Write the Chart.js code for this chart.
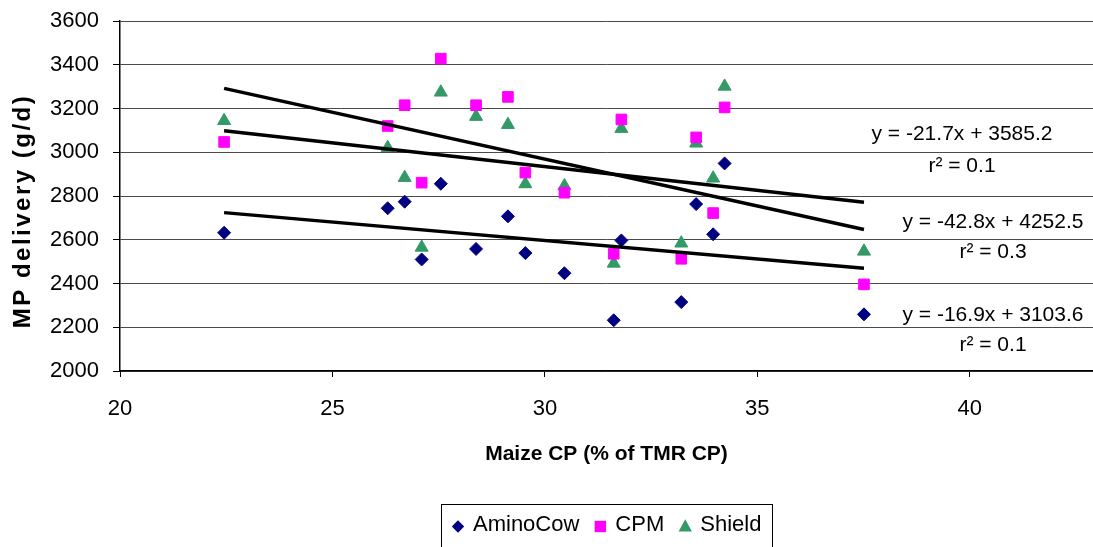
<!DOCTYPE html>
<html>
<head>
<meta charset="utf-8">
<script src="https://cdn.jsdelivr.net/npm/chart.js@4.4.1/dist/chart.umd.min.js"></script>
<style>
    html, body { margin: 0; padding: 0; background: #fff; }
    canvas { display: block; }
</style>
</head>
<body>
<canvas id="mpChart" width="1093" height="547"></canvas>
<script>
// Maize CP (% of TMR CP) - same diets for all three models
const maizeCP = [22.45, 26.3, 26.7, 27.1, 27.55, 28.38, 29.13, 29.54, 30.46, 31.62, 31.8, 33.21, 33.56, 33.96, 34.23, 37.51];

// MP delivery (g/d) per model
const aminoCow = [2632, 2744, 2774, 2510, 2856, 2558, 2707, 2539, 2447, 2232, 2597, 2315, 2763, 2625, 2949, 2259];
const cpm      = [3047, 3120, 3215, 2861, 3428, 3215, 3253, 2907, 2815, 2536, 3150, 2513, 3068, 2722, 3205, 2396];
const shield   = [3144, 3021, 2884, 2565, 3274, 3163, 3126, 2855, 2846, 2492, 3108, 2584, 3041, 2881, 3301, 2547];

// Trendline end points
const trendX        = [22.45, 37.51];
const trendAminoCow = [2724, 2470];
const trendCpm      = [3292, 2647];
const trendShield   = [3098, 2771];

// Trendline equations as printed in the chart
const eqShield   = ['y = -21.7x + 3585.2', 'r\u00b2 = 0.1'];
const eqCpm      = ['y = -42.8x + 4252.5', 'r\u00b2 = 0.3'];
const eqAminoCow = ['y = -16.9x + 3103.6', 'r\u00b2 = 0.1'];

const seriesNames = ['AminoCow', 'CPM', 'Shield'];
const yTicks = [2000, 2200, 2400, 2600, 2800, 3000, 3200, 3400, 3600];
const xTicks = [20, 25, 30, 35, 40];

const FONT = '"Liberation Sans", Arial, sans-serif';
const COLORS = { AminoCow: '#000080', CPM: '#ff00ff', Shield: '#339966' };
const MARKERS = { AminoCow: 'rectRot', CPM: 'rect', Shield: 'triangle' };

Chart.defaults.font.family = FONT;
Chart.defaults.color = '#000';

const toPoints = (xs, ys) => xs.map((x, i) => ({ x, y: ys[i] }));

function scatterSet(name, values, radius) {
    return {
        type: 'scatter',
        label: name,
        data: toPoints(maizeCP, values),
        pointStyle: MARKERS[name],
        pointRadius: radius,
        pointHoverRadius: radius,
        backgroundColor: COLORS[name],
        borderColor: COLORS[name],
        borderWidth: 1,
        order: 1
    };
}

function trendSet(values) {
    return {
        type: 'line',
        label: 'trend',
        data: toPoints(trendX, values),
        borderColor: '#000',
        borderWidth: 3.5,
        pointRadius: 0,
        fill: false,
        order: 0
    };
}

// y axis title, drawn by hand (offset + spacing like the original)
const yTitlePlugin = {
    id: 'yTitle',
    afterDraw(chart) {
        const ctx = chart.ctx;
        ctx.save();
        ctx.translate(23.5, 211);
        ctx.rotate(-Math.PI / 2);
        ctx.font = 'bold 24px ' + FONT;
        ctx.letterSpacing = '2.5px';
        ctx.textAlign = 'center';
        ctx.textBaseline = 'middle';
        ctx.fillStyle = '#000';
        ctx.fillText('MP delivery (g/d)', 0, 0);
        ctx.restore();
    }
};

// equation labels next to the trendlines
const equationPlugin = {
    id: 'equations',
    afterDraw(chart) {
        const ctx = chart.ctx;
        const labels = [
            { lines: eqShield, x: 962, y: [134, 166] },
            { lines: eqCpm, x: 993, y: [222, 252] },
            { lines: eqAminoCow, x: 993, y: [315.5, 345] }
        ];
        ctx.save();
        ctx.font = '21px ' + FONT;
        ctx.textAlign = 'center';
        ctx.textBaseline = 'middle';
        ctx.fillStyle = '#000';
        labels.forEach(l => {
            ctx.fillText(l.lines[0], l.x, l.y[0]);
            ctx.fillText(l.lines[1], l.x, l.y[1]);
        });
        ctx.restore();
    }
};

function drawMarker(ctx, style, x, y, r, color) {
    ctx.fillStyle = color;
    ctx.beginPath();
    if (style === 'rectRot') {
        ctx.moveTo(x - r, y);
        ctx.lineTo(x, y - r);
        ctx.lineTo(x + r, y);
        ctx.lineTo(x, y + r);
    } else if (style === 'rect') {
        ctx.rect(x - r, y - r, 2 * r, 2 * r);
    } else {
        ctx.moveTo(x, y - r * 1.05);
        ctx.lineTo(x + r * 0.95, y + r * 0.7);
        ctx.lineTo(x - r * 0.95, y + r * 0.7);
    }
    ctx.closePath();
    ctx.fill();
}

// boxed legend at the bottom
const legendPlugin = {
    id: 'boxLegend',
    afterDraw(chart) {
        const ctx = chart.ctx;
        const left = 441, top = 504, right = 772;
        const midY = 525;
        const sizes = { AminoCow: 6.2, CPM: 5.7, Shield: 7 };
        ctx.save();
        ctx.strokeStyle = '#000';
        ctx.lineWidth = 1;
        ctx.strokeRect(left + 0.5, top + 0.5, right - left, 60);

        ctx.font = '22px ' + FONT;
        ctx.textAlign = 'left';
        ctx.textBaseline = 'middle';
        let x = left + 17;
        seriesNames.forEach(name => {
            drawMarker(ctx, MARKERS[name], x, midY + 1.5, sizes[name], COLORS[name]);
            ctx.fillStyle = '#000';
            ctx.fillText(name, x + 15, midY);
            x += 15 + ctx.measureText(name).width + 21;
        });
        ctx.restore();
    }
};

const ctx = document.getElementById('mpChart').getContext('2d');
new Chart(ctx, {
    data: {
        datasets: [
            trendSet(trendShield),
            trendSet(trendCpm),
            trendSet(trendAminoCow),
            scatterSet('AminoCow', aminoCow, 6.5),
            scatterSet('CPM', cpm, 7.5),
            scatterSet('Shield', shield, 7.5)
        ]
    },
    options: {
        responsive: false,
        devicePixelRatio: 1,
        animation: false,
        layout: {
            autoPadding: false,
            padding: { top: 21, left: 0, right: 0, bottom: 0 }
        },
        plugins: {
            legend: { display: false },
            tooltip: { enabled: false }
        },
        scales: {
            x: {
                type: 'linear',
                min: 20,
                max: 42.9,
                afterBuildTicks: scale => {
                    scale.ticks = xTicks.map(v => ({ value: v }));
                },
                afterFit: scale => { scale.height = 176; },
                ticks: {
                    font: { size: 22 },
                    padding: 19,
                    maxRotation: 0,
                    callback: v => String(v)
                },
                grid: {
                    drawOnChartArea: false,
                    drawTicks: true,
                    tickLength: 6,
                    tickColor: '#000'
                },
                border: { color: '#000', width: 1.5 },
                title: {
                    display: true,
                    text: 'Maize CP (% of TMR CP)',
                    font: { size: 21, weight: 'bold' },
                    padding: { top: 0, bottom: 80 }
                }
            },
            y: {
                type: 'linear',
                min: 2000,
                max: 3600,
                afterBuildTicks: scale => {
                    scale.ticks = yTicks.map(v => ({ value: v }));
                },
                afterFit: scale => {
                    scale.width = 120;
                    // let the top label overhang instead of shrinking the plot
                    scale.paddingTop = 0;
                    scale.paddingBottom = 0;
                },
                ticks: {
                    font: { size: 22 },
                    padding: 14,
                    callback: v => String(v)
                },
                grid: {
                    color: '#4a4a4a',
                    lineWidth: 1,
                    drawTicks: true,
                    tickLength: 7,
                    tickColor: '#000'
                },
                border: { color: '#000', width: 1.5 }
            }
        }
    },
    plugins: [yTitlePlugin, equationPlugin, legendPlugin]
});
</script>
</body>
</html>
